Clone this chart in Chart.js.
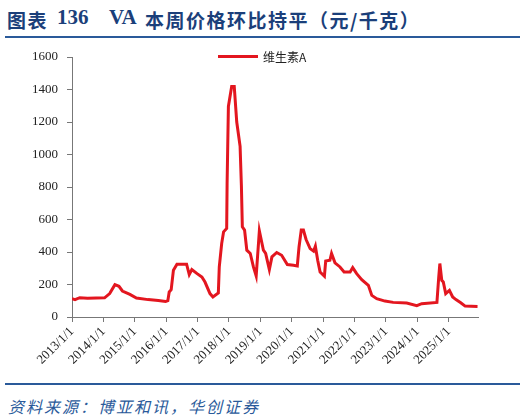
<!DOCTYPE html>
<html>
<head>
<meta charset="utf-8">
<script src="https://cdn.jsdelivr.net/npm/chart.js@4.4.1/dist/chart.umd.min.js"></script>
<style>
  body { margin: 0; background: #fff; width: 525px; height: 418px; position: relative; overflow: hidden; }
  .title { position: absolute; top: 6px; font: bold 19px "Liberation Serif", "Noto Sans CJK SC", serif; color: #1b3f7a; white-space: pre; }
  .num { font-size: 21px; top: 5px; }
  .cjk { font-family: "Noto Sans CJK SC", sans-serif; letter-spacing: 1.5px; }
  .rule { position: absolute; left: 5px; width: 515px; background: #2a5a9a; }
  #chart-box { position: absolute; left: 0; top: 40px; }
  #legend { position: absolute; left: 218px; top: 47px; height: 18px; display: flex; align-items: center; font: 12px "Noto Sans CJK SC", sans-serif; color: #222; }
  #legend .swatch { width: 40px; height: 3px; margin-right: 5px; }
  #source { position: absolute; left: 8px; top: 394px; font: italic 16px "Noto Sans CJK SC", sans-serif; letter-spacing: 2px; color: #2a5a9a; }
</style>
</head>
<body>
<span class="title cjk" style="left:7px">图表</span>
<span class="title num" style="left:57px">136</span>
<span class="title num" style="left:109px">VA</span>
<span class="title cjk" style="left:145px">本周价格环比持平（元/千克）</span>
<div class="rule" style="top:36px;height:2px"></div>
<div id="chart-box"><canvas id="vaChart" width="525" height="340"></canvas></div>
<div id="legend"></div>
<div class="rule" style="top:383px;height:2px"></div>
<div id="source">资料来源：博亚和讯，华创证券</div>

<script>
// weekly VA price (yuan/kg)
const seriesName = '维生素A';
const lineColor = '#e3161f';
const dates = [
  '2013-01-01','2013-02-05','2013-04-01','2013-07-01','2014-01-15','2014-03-15','2014-05-15','2014-07-01',
  '2014-08-10','2014-11-05','2015-01-20','2015-06-05','2015-10-01','2015-12-25','2016-01-20','2016-02-05',
  '2016-02-28','2016-03-25','2016-05-05','2016-08-25','2016-09-25','2016-10-25','2016-12-25','2017-02-20',
  '2017-03-28','2017-05-25','2017-06-28','2017-08-30','2017-09-10','2017-10-08','2017-10-30','2017-12-05',
  '2017-12-10','2017-12-25','2018-02-01','2018-03-03','2018-04-01','2018-05-10','2018-05-25','2018-06-05',
  '2018-07-01','2018-07-27','2018-09-05','2018-10-12','2018-11-13','2018-12-20','2019-02-05','2019-03-03',
  '2019-04-15','2019-05-15','2019-07-10','2019-09-05','2019-11-10','2020-01-20','2020-03-05','2020-03-25',
  '2020-04-20','2020-05-15','2020-06-15','2020-08-01','2020-09-10','2020-10-01','2020-10-28','2020-11-25',
  '2021-01-15','2021-01-30','2021-03-20','2021-04-08','2021-05-18','2021-07-15','2021-09-01','2021-11-10',
  '2021-12-10','2022-01-25','2022-03-25','2022-06-10','2022-07-20','2022-09-15','2022-12-20','2023-03-25',
  '2023-08-30','2023-12-25','2024-02-20','2024-08-15','2024-09-05','2024-09-18','2024-10-10','2024-10-28',
  '2024-11-25','2025-01-08','2025-02-15','2025-03-25','2025-05-20','2025-07-10','2025-12-01'
];
const prices = [
  113, 107, 119, 115, 118, 144, 199, 189,
  160, 139, 117, 107, 102, 95, 100, 154,
  168, 288, 325, 325, 261, 292, 267, 246,
  215, 144, 123, 148, 308, 452, 524, 545,
  823, 1296, 1419, 1419, 1200, 1050, 810, 555,
  535, 411, 391, 308, 252, 530, 411, 391,
  292, 370, 397, 380, 323, 318, 314, 431,
  535, 535, 477, 421, 405, 436, 349, 277,
  251, 345, 349, 391, 333, 308, 277, 277,
  304, 267, 230, 195, 133, 113, 98, 90,
  86, 70, 82, 90, 246, 329, 226, 215,
  144, 164, 123, 107, 88, 67, 65
];
const yTicks = [0, 200, 400, 600, 800, 1000, 1200, 1400, 1600];
const firstYear = 2013;
const lastYear = 2025;

function toYear(s) {
  const d = new Date(s + 'T00:00:00Z');
  const start = Date.UTC(d.getUTCFullYear(), 0, 1);
  return d.getUTCFullYear() + (d - start) / (365 * 86400000);
}

// legend as plain html so it can sit inside the plot like the original
const legend = document.getElementById('legend');
legend.innerHTML = `<span class="swatch" style="background:${lineColor}"></span><span>${seriesName}</span>`;

const points = dates.map((d, i) => ({ x: toYear(d), y: prices[i] }));
const tickFont = { family: '"Liberation Serif", "Times New Roman", serif', size: 13 };

new Chart(document.getElementById('vaChart'), {
  type: 'line',
  data: {
    datasets: [{
      label: seriesName,
      data: points,
      borderColor: lineColor,
      backgroundColor: lineColor,
      borderWidth: 3,
      pointRadius: 0,
      tension: 0
    }]
  },
  options: {
    responsive: false,
    animation: false,
    layout: { padding: { top: 17, right: 47, left: 0, bottom: 0 } },
    plugins: {
      tooltip: { enabled: false },
      legend: { display: false }
    },
    scales: {
      x: {
        type: 'linear',
        min: firstYear,
        max: 2025.93,
        afterFit: s => { s.height = 63; },
        afterBuildTicks: s => { s.ticks = s.ticks.filter(t => Number.isInteger(t.value) && t.value <= lastYear); },
        ticks: {
          stepSize: 1,
          includeBounds: false,
          autoSkip: false,
          minRotation: 45,
          maxRotation: 45,
          padding: 2,
          color: '#222',
          font: tickFont,
          callback: v => v + '/1/1'
        },
        grid: { display: true, drawOnChartArea: false, tickLength: 5, color: '#777' },
        border: { color: '#777', width: 1 }
      },
      y: {
        min: 0,
        max: 1600,
        afterFit: s => { s.width = 72; },
        afterBuildTicks: s => { s.ticks = yTicks.map(v => ({ value: v })); },
        ticks: { padding: 9, color: '#222', font: tickFont, callback: v => String(v) },
        grid: { display: true, drawOnChartArea: false, tickLength: 5, color: '#777' },
        border: { color: '#777', width: 1 }
      }
    }
  }
});
</script>
</body>
</html>
